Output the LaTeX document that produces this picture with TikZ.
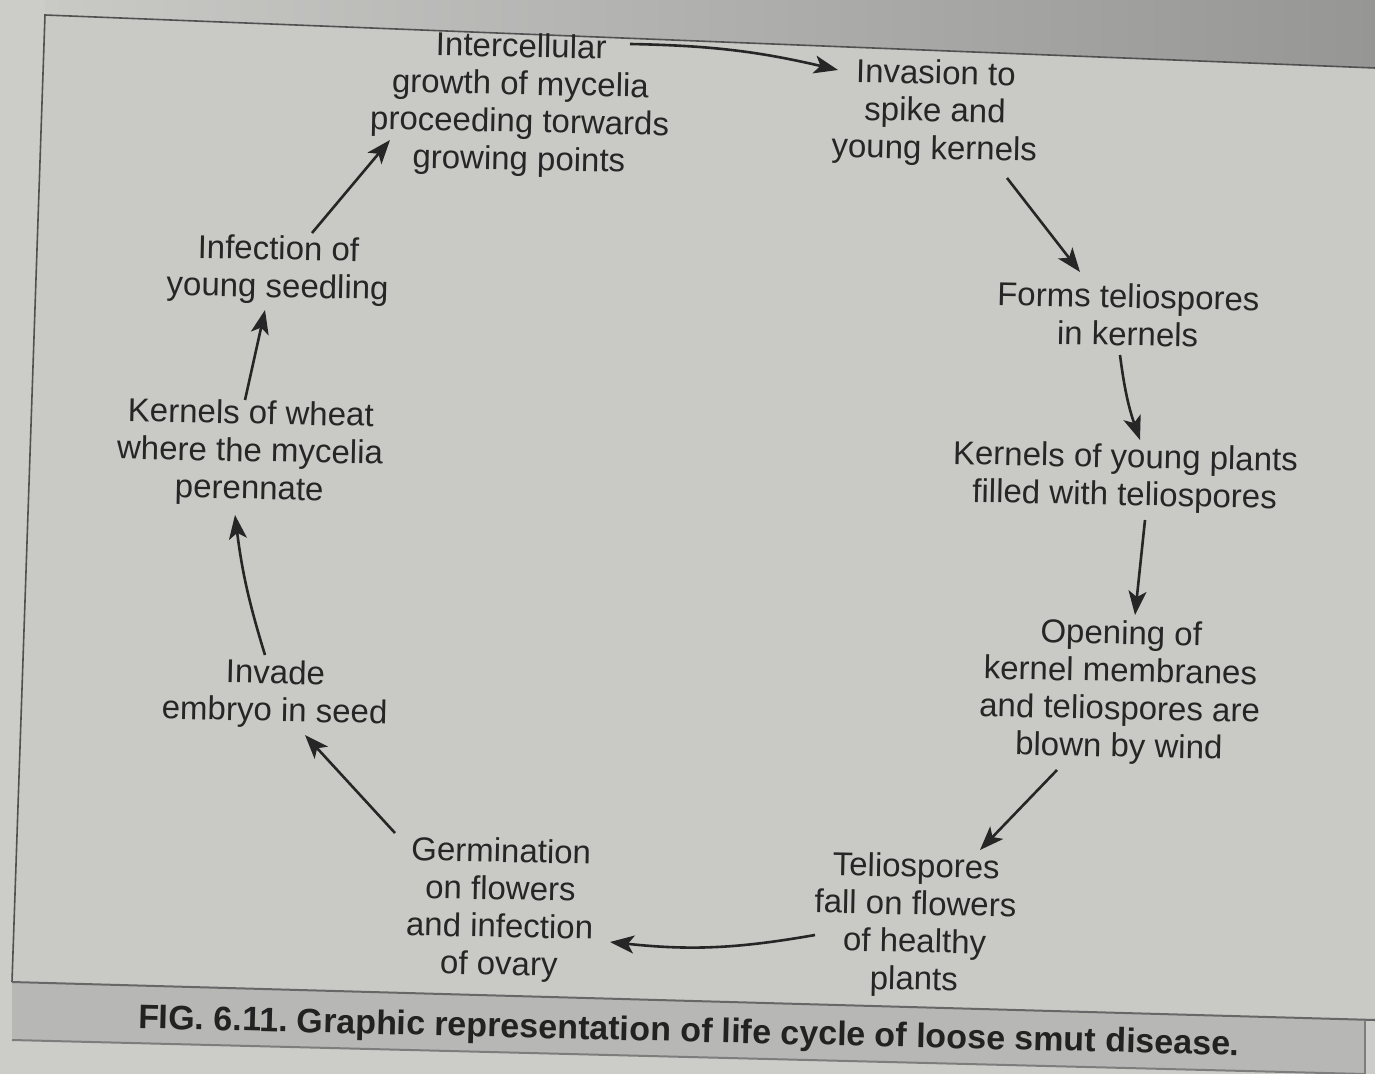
\documentclass[tikz,border=0pt]{standalone}
\usepackage{fontspec}
\setmainfont{Liberation Sans}
\usetikzlibrary{arrows.meta,calc}
\definecolor{pagegrey}{RGB}{201,202,198}
\definecolor{darkpage}{RGB}{150,151,149}
\definecolor{bandgrey}{RGB}{183,184,181}
\definecolor{ink}{RGB}{38,38,38}
\begin{document}
\begin{tikzpicture}[x=0.5pt,y=-0.5pt,
  stage/.style={align=center,text=ink,inner sep=0pt,rotate=-1.2,
    font=\fontsize{16.5}{18.8}\selectfont},
  flow/.style={draw=ink,line width=1.3pt,
    -{Stealth[length=12pt,width=9pt,inset=3pt]}}]
\useasboundingbox (0,0) rectangle (1375,1074);
% page and frame
\fill[pagegrey!95!white] (0,0) rectangle (1375,1074);
\shade[left color=pagegrey,right color=darkpage] (45,0) -- (1375,0) -- (1375,68) -- (45,15) -- cycle;
\fill[pagegrey] (45,15) -- (1375,68) -- (1375,1020) -- (12,982) -- cycle;
\fill[bandgrey] (12,982) -- (1365,1020) -- (1365,1074) -- (12,1040) -- cycle;
\draw[ink!80,line width=0.8pt] (12,982) -- (45,15) -- (1375,68);
\draw[ink!70,line width=1pt] (12,982) -- (1375,1020);
\draw[ink!60,line width=1pt] (12,1040) -- (1365,1074);
\draw[ink!60,line width=0.8pt] (1365,1020) -- (1365,1074);
% stages
\node[stage] (n1) at (520,105) {Intercellular\\growth of mycelia\\proceeding torwards\\growing points};
\node[stage] (n2) at (935,113) {Invasion to\\spike and\\young kernels};
\node[stage] (n3) at (1128,315) {Forms teliospores\\in kernels};
\node[stage] (n4) at (1125,478) {Kernels of young plants\\filled with teliospores};
\node[stage] (n5) at (1120,692) {Opening of\\kernel membranes\\and teliospores are\\blown by wind};
\node[stage] (n6) at (915,925) {Teliospores\\fall on flowers\\of healthy\\plants};
\node[stage] (n7) at (500,910) {Germination\\on flowers\\and infection\\of ovary};
\node[stage] (n8) at (275,694) {Invade\\embryo in seed};
\node[stage] (n9) at (250,453) {Kernels of wheat\\where the mycelia\\perennate};
\node[stage] (n10) at (278,270) {Infection of\\young seedling};
% caption
\node[text=ink!90!black,font=\frenchspacing\bfseries\fontsize{17}{20}\selectfont,rotate=-1.4,inner sep=0pt] (cap) at (689,1033)
  {FIG. 6.11. Graphic representation of life cycle of loose smut disease.};
% arrows
\draw[flow] ($(n1)+(110,-61)$) to[bend left=6] ($(n2)+(-97,-43)$);
\draw[flow] ($(n2)+(72,65)$) -- ($(n3)+(-48,-43)$);
\draw[flow] ($(n3)+(-8,40)$) to[bend right=6] ($(n4)+(15,-38)$);
\draw[flow] ($(n4)+(20,42)$) -- ($(n5)+(15,-77)$);
\draw[flow] ($(n5)+(-63,78)$) -- ($(n6)+(65,-75)$);
\draw[flow] ($(n6)+(-100,10)$) to[bend left=8] ($(n7)+(110,32)$);
\draw[flow] ($(n7)+(-105,-77)$) -- ($(n8)+(30,41)$);
\draw[flow] ($(n8)+(-10,-39)$) to[bend left=5] ($(n9)+(-15,62)$);
\draw[flow] ($(n9)+(-5,-53)$) -- ($(n10)+(-13,40)$);
\draw[flow] ($(n10)+(34,-37)$) -- ($(n1)+(-130,35)$);
\end{tikzpicture}
\end{document}
